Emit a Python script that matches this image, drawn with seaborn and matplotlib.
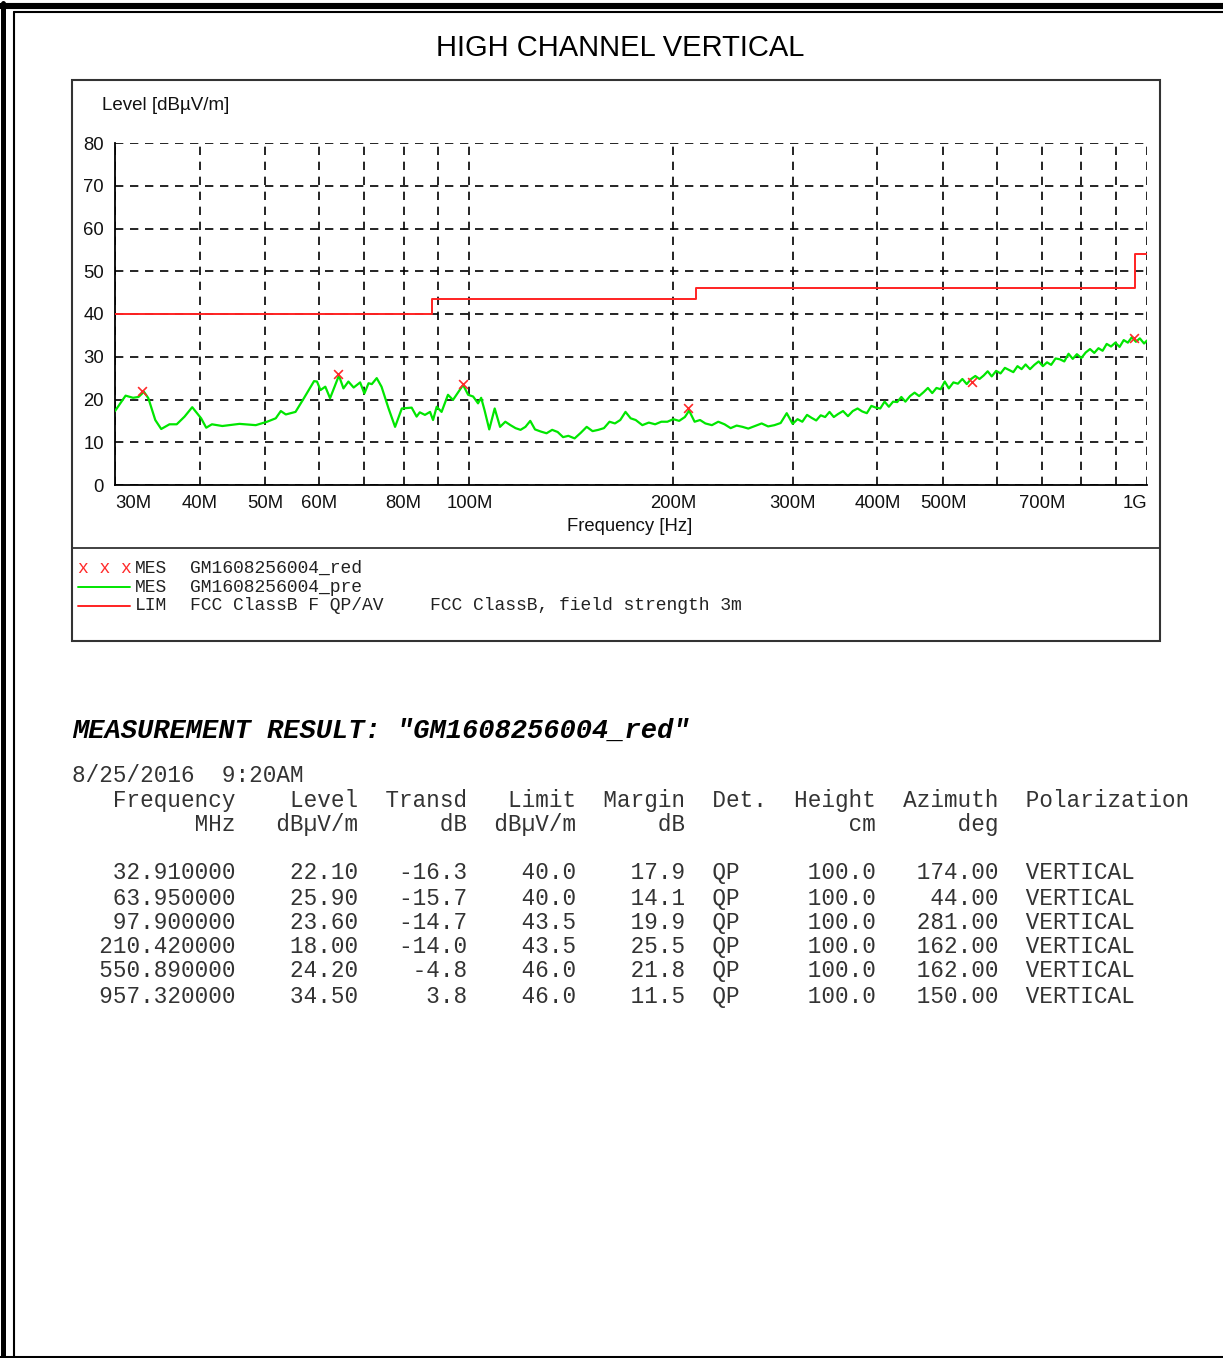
import numpy as np
import pandas as pd
import seaborn as sns
import matplotlib.pyplot as plt
from matplotlib.lines import Line2D
from matplotlib.patches import Rectangle

W, H = 1223, 1358

# pre-scan trace "GM1608256004_pre" (MHz, dBuV/m)
trace_freq = [
    30.0, 31.1, 31.9, 32.5, 33.1, 33.6, 34.4, 35.1, 36.1, 37.0, 38.0, 39.0, 40.2, 40.9,
    41.7, 43.2, 45.8, 48.4, 50.3, 51.8, 52.7, 53.6, 55.4, 57.0, 59.0, 59.6, 60.3, 61.3,
    62.3, 64.2, 65.2, 66.3, 67.5, 69.0, 70.0, 71.0, 71.8, 73.0, 74.2, 76.0, 77.7, 79.5,
    82.2, 83.6, 84.5, 86.0, 87.5, 88.4, 89.5, 91.0, 93.0, 94.6, 97.9, 99.6, 101.3, 103.0,
    104.1, 105.3,
    107, 109, 111, 113, 115, 117, 119, 121, 123, 125, 127.5, 130, 132.5, 135, 137.5, 140,
    143, 146, 149, 152, 155, 158, 161, 164, 167, 170, 173, 176, 180, 184, 188, 192, 196,
    200, 204, 208, 211, 215, 219, 223, 228, 233, 238, 243, 248, 253, 258, 264, 270, 276,
    282, 288, 294, 300,
    305, 310, 315, 320, 325, 330, 335, 340, 345, 350, 356, 362, 368, 374, 380, 386, 392,
    398, 404, 410, 416, 422, 428, 434, 440, 447, 454, 461, 468, 475, 482, 489, 496, 503,
    510, 518, 526, 534, 542, 550, 558, 566, 574, 582, 590, 599, 608, 617, 626, 635, 644,
    653, 662, 672, 682, 692, 702, 712, 722, 733, 744, 755, 766, 777, 788, 800, 812, 824,
    836, 848, 860, 872, 885, 898, 911, 924, 937, 950, 963, 976, 990, 1000,
]
trace_level = [
    17.3, 20.9, 20.4, 20.6, 21.8, 20.3, 15.2, 13.1, 14.2, 14.2, 16.0, 18.2, 15.6, 13.4,
    14.2, 13.8, 14.3, 14.0, 14.8, 15.6, 17.3, 16.5, 17.1, 20.3, 24.3, 24.2, 22.2, 23.0,
    20.3, 25.6, 22.6, 24.2, 22.8, 24.0, 21.4, 23.8, 23.6, 25.0, 23.0, 17.9, 13.6, 17.9,
    18.1, 16.0, 17.0, 16.4, 17.1, 15.2, 18.3, 17.1, 21.1, 19.9, 23.4, 21.1, 20.7, 19.1,
    20.4, 17.5,
    13.0, 17.9, 13.6, 14.8, 14.0, 13.3, 12.9, 13.6, 15.0, 13.0, 12.5, 12.1, 12.9, 12.4,
    11.2, 11.5, 10.9, 12.2, 13.6, 12.6, 12.9, 13.3, 14.8, 14.4, 15.2, 17.1, 15.6, 15.2,
    14.0, 14.6, 14.2, 14.8, 14.8, 15.4, 15.0, 15.9, 17.4, 14.8, 15.2, 14.4, 14.0, 14.8,
    14.2, 13.3, 13.9, 13.6, 13.2, 13.8, 14.4, 13.7, 14.0, 14.5, 16.8, 14.3,
    15.4, 14.8, 16.4, 15.7, 15.1, 16.3, 15.9, 17.1, 15.9, 16.6, 17.3, 16.1, 17.3, 17.9,
    17.2, 16.8, 18.5, 18.1, 17.9, 19.5, 18.3, 19.5, 19.4, 20.6, 19.5, 20.8, 21.6, 20.8,
    21.7, 22.7, 21.5, 22.7, 22.4, 24.2, 22.6, 24.0, 23.7, 24.8, 23.6, 24.8, 25.5, 24.8,
    25.6, 26.6, 25.4, 26.7, 26.1, 27.4, 26.9, 26.4, 27.8, 27.1, 28.2, 27.1, 28.1, 28.9,
    27.8, 28.7, 28.1, 29.6, 29.4, 28.9, 30.7, 29.5, 30.6, 29.7, 31.0, 31.8, 30.9, 32.0,
    31.4, 33.0, 32.4, 33.3, 32.3, 33.9, 33.3, 34.6, 33.5, 34.3, 33.1, 33.8,
]

# final QP measurements "GM1608256004_red"
peak_freq = [32.91, 63.95, 97.90, 210.42, 550.89, 957.32]
peak_level = [22.10, 25.90, 23.60, 18.00, 24.20, 34.50]
peak_transd = [-16.3, -15.7, -14.7, -14.0, -4.8, 3.8]
peak_limit = [40.0, 40.0, 43.5, 43.5, 46.0, 46.0]
peak_margin = [17.9, 14.1, 19.9, 25.5, 21.8, 11.5]
peak_height = [100.0, 100.0, 100.0, 100.0, 100.0, 100.0]
peak_azimuth = [174.00, 44.00, 281.00, 162.00, 162.00, 150.00]

# FCC class B limit, 3 m
limit_freq = [30, 88, 216, 960, 1000]
limit_level = [40.0, 43.5, 46.0, 54.0, 54.0]

grid_freq = [30, 40, 50, 60, 70, 80, 90, 100, 200, 300, 400, 500, 600, 700, 800, 900, 1000]
freq_labels = {30: '30M', 40: '40M', 50: '50M', 60: '60M', 80: '80M', 100: '100M',
               200: '200M', 300: '300M', 400: '400M', 500: '500M', 700: '700M', 1000: '1G'}

sns.set_style("white")
plt.rcParams['font.family'] = ['Liberation Sans', 'DejaVu Sans']

fig = plt.figure(figsize=(W / 100, H / 100), dpi=100)


def fx(px):
    return px / W


def fy(py):
    return 1 - py / H


ax = fig.add_axes([fx(115), fy(485), fx(1147) - fx(115), fy(143) - fy(485)])

trace = pd.DataFrame({'freq': trace_freq, 'level': trace_level})
peaks = pd.DataFrame({'freq': peak_freq, 'level': peak_level})
limit = pd.DataFrame({'freq': limit_freq, 'level': limit_level})

sns.lineplot(data=limit, x='freq', y='level', ax=ax, color='#ff2222', lw=1.4,
             estimator=None, drawstyle='steps-post', zorder=3)
sns.lineplot(data=trace, x='freq', y='level', ax=ax, color='#00e600', lw=1.6,
             estimator=None, zorder=4)
sns.scatterplot(data=peaks, x='freq', y='level', ax=ax, marker='x', color='#ff2a2a',
                s=40, linewidth=1.2, zorder=5)

ax.set_xscale('log')
ax.set_xlim(30, 1000)
ax.set_ylim(0, 80)
ax.set_xticks(grid_freq)
ax.set_xticks([], minor=True)
ax.set_xticklabels([freq_labels.get(f, '') for f in grid_freq])
ax.set_yticks(range(0, 81, 10))
ax.tick_params(length=0, labelsize=13.3, colors='#111111')
ax.tick_params(axis='x', pad=7)
ax.tick_params(axis='y', pad=8)
xl = ax.get_xticklabels()
xl[0].set_ha('left')
xl[-1].set_ha('right')
ax.set_xlabel('')
ax.set_ylabel('')
ax.grid(True, color='black', linestyle=(0, (5, 4)), lw=1.2)
ax.set_axisbelow(True)
for side in ['top', 'right']:
    ax.spines[side].set_visible(False)
for side in ['left', 'bottom']:
    ax.spines[side].set_color('black')
    ax.spines[side].set_linewidth(1.3)

# chart frame and legend divider
fig.add_artist(Rectangle((fx(72), fy(641)), fx(1160) - fx(72), fy(80) - fy(641),
                         transform=fig.transFigure, fill=False, ec='#333333', lw=1.5))
fig.add_artist(Line2D([fx(72), fx(1160)], [fy(548), fy(548)], color='#333333', lw=1.3))

# page border
fig.add_artist(Line2D([0, 1], [fy(6), fy(6)], color='black', lw=4.4))
fig.add_artist(Line2D([fx(2.5), fx(2.5)], [0, fy(3)], color='black', lw=3.6))
fig.add_artist(Line2D([fx(14), 1], [fy(12), fy(12)], color='black', lw=1.5))
fig.add_artist(Line2D([fx(14), fx(14)], [0, fy(12)], color='black', lw=1.5))
fig.add_artist(Line2D([0, 1], [fy(1356.5), fy(1356.5)], color='black', lw=2.2))

fig.text(fx(620), fy(48), 'HIGH CHANNEL VERTICAL', ha='center', va='center',
         fontsize=21, color='black')
fig.text(fx(102), fy(106), 'Level [dBµV/m]', ha='left', va='center', fontsize=13.5, color='#111111')
fig.text(fx(630), fy(527), 'Frequency [Hz]', ha='center', va='center', fontsize=13.3, color='#111111')

# legend block
mono = ['Liberation Mono', 'DejaVu Sans Mono']
fig.text(fx(78), fy(568), 'x x x', ha='left', va='center', fontsize=13, family=mono, color='#ff2a2a')
fig.add_artist(Line2D([fx(78), fx(130)], [fy(587), fy(587)], color='#00e600', lw=1.4))
fig.add_artist(Line2D([fx(78), fx(130)], [fy(606), fy(606)], color='#ff2222', lw=1.4))
legend_rows = [('MES', 'GM1608256004_red', ''),
               ('MES', 'GM1608256004_pre', ''),
               ('LIM', 'FCC ClassB F QP/AV', 'FCC ClassB, field strength 3m')]
for i, (kind, name, desc) in enumerate(legend_rows):
    y = fy(568 + 19 * i)
    fig.text(fx(135), y, kind, ha='left', va='center', fontsize=13, family=mono, color='#222222')
    fig.text(fx(190), y, name, ha='left', va='center', fontsize=13, family=mono, color='#222222')
    if desc:
        fig.text(fx(430), y, desc, ha='left', va='center', fontsize=13, family=mono, color='#222222')

# measurement result table
fig.text(fx(72), fy(731), 'MEASUREMENT RESULT: "GM1608256004_red"', ha='left', va='center',
         fontsize=19.5, family=mono, weight='bold', style='italic', color='black')

lines = ['8/25/2016  9:20AM',
         '   Frequency    Level  Transd   Limit  Margin  Det.  Height  Azimuth  Polarization',
         '         MHz   dBµV/m      dB  dBµV/m      dB            cm      deg']
for i in range(len(peak_freq)):
    lines_row = (f"{peak_freq[i]:12.6f}{peak_level[i]:9.2f}{peak_transd[i]:8.1f}"
                 f"{peak_limit[i]:8.1f}{peak_margin[i]:8.1f}  QP{peak_height[i]:10.1f}"
                 f"{peak_azimuth[i]:9.2f}  VERTICAL")
    lines.append(lines_row)

row_y = [776, 801, 825, 873, 898, 922, 947, 971, 996]
for txt, py in zip(lines, row_y):
    fig.text(fx(72), fy(py), txt, ha='left', va='center', fontsize=16.3, family=mono,
             color='#333333')

fig.savefig('out.png', dpi=100)
